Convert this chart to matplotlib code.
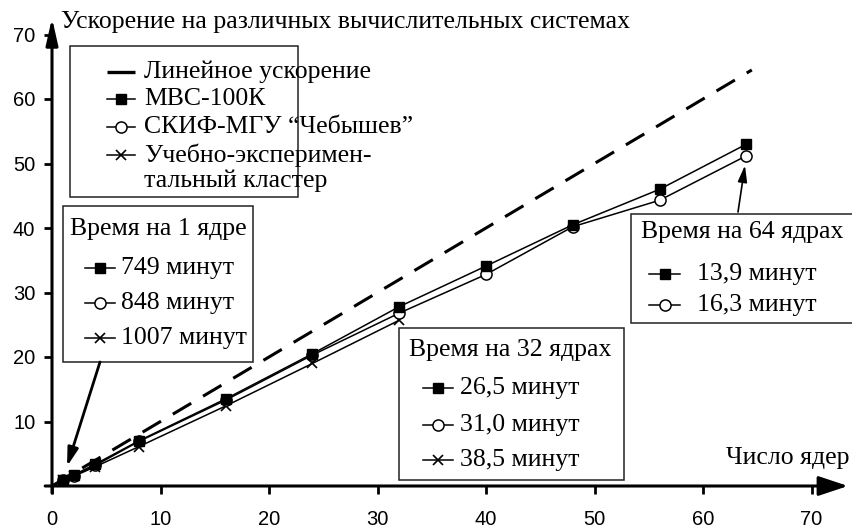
import numpy as np
import matplotlib
matplotlib.use('Agg')
import matplotlib.pyplot as plt
from matplotlib.patches import Rectangle

# --- данные ---
cores = [1, 2, 4, 8, 16, 24, 32, 40, 48, 56, 64]
mvs_speedup = [1.0, 1.7, 3.4, 7.0, 13.5, 20.5, 27.8, 34.1, 40.5, 46.0, 53.0]
skif_speedup = [1.0, 1.6, 3.2, 6.9, 13.3, 20.3, 26.8, 32.8, 40.2, 44.3, 51.2]
cluster_cores = [1, 2, 4, 8, 16, 24, 32]
cluster_speedup = [0.9, 1.5, 3.0, 6.1, 12.4, 19.0, 25.7]
linear_cores = [0, 64.5]
linear_speedup = [0, 64.5]

x_ticks = [0, 10, 20, 30, 40, 50, 60, 70]
y_ticks = [10, 20, 30, 40, 50, 60, 70]

y_title = 'Ускорение на различных вычислительных системах'
x_title = 'Число ядер'
series_labels = ['Линейное ускорение', 'МВС-100К', 'СКИФ-МГУ “Чебышев”',
                 'Учебно-эксперимен-', 'тальный кластер']
title_1 = 'Время на 1 ядре'
times_1 = ['749 минут', '848 минут', '1007 минут']
title_32 = 'Время на 32 ядрах'
times_32 = ['26,5 минут', '31,0 минут', '38,5 минут']
title_64 = 'Время на 64 ядрах'
times_64 = ['13,9 минут', '16,3 минут']

SERIF = 'Liberation Serif'
SANS = 'Liberation Sans'
FS = 18.5
W, H = 852, 529

# стили маркеров для серий
STYLES = {
    'lin': dict(marker=None, lw=2.2),
    'mvs': dict(marker='s', ms=6.5, mfc='black', mec='black', lw=1.1),
    'skif': dict(marker='o', ms=8, mfc='white', mec='black', mew=1.1, lw=1.1),
    'cl': dict(marker='x', ms=7, mec='black', mew=1.2, lw=1.1),
}

fig = plt.figure(figsize=(W / 100, H / 100), dpi=100)

# основная ось: x=0 -> 52 px, x=70 -> 811.5 px; y=0 -> 486 px, y=70 -> 34.5 px
ax = fig.add_axes([52 / W, (H - 486) / H, (811.5 - 52) / W, (486 - 34.5) / H])
ax.set_xlim(0, 70)
ax.set_ylim(0, 70)
for s in ax.spines.values():
    s.set_visible(False)
ax.patch.set_alpha(0)

ax.plot(linear_cores, linear_speedup, color='black', lw=2.2,
        dashes=(7, 4.5), zorder=2)
ax.plot(cluster_cores, cluster_speedup, color='black', zorder=3, **STYLES['cl'])
ax.plot(cores, skif_speedup, color='black', zorder=4, **STYLES['skif'])
ax.plot(cores, mvs_speedup, color='black', zorder=5, **STYLES['mvs'])

ax.set_xticks(x_ticks)
ax.set_yticks(y_ticks)
ax.set_xticklabels([str(t) for t in x_ticks], fontfamily=SANS, fontsize=14.5)
ax.set_yticklabels([str(t) for t in y_ticks], fontfamily=SANS, fontsize=14.5)
ax.tick_params(axis='x', direction='out', length=6, width=2, pad=11)
ax.tick_params(axis='y', direction='out', length=6, width=2, pad=6)

# оси со стрелками
ax.annotate('', xy=(0, 1.0365), xytext=(0, -0.0155), xycoords='axes fraction',
            arrowprops=dict(arrowstyle='-|>,head_length=1.6,head_width=0.36',
                            lw=2.2, color='black', mutation_scale=10,
                            shrinkA=0, shrinkB=0), annotation_clip=False)
ax.annotate('', xy=(1.048, 0), xytext=(-0.009, 0), xycoords='axes fraction',
            arrowprops=dict(arrowstyle='-|>,head_length=1.8,head_width=0.6',
                            lw=2.2, color='black', mutation_scale=10,
                            shrinkA=0, shrinkB=0), annotation_clip=False)

# слой для подписей и рамок в пикселях
ov = fig.add_axes([0, 0, 1, 1], zorder=10)
ov.set_xlim(0, W)
ov.set_ylim(H, 0)
ov.axis('off')

ov.text(61, 22, y_title, fontfamily=SERIF, fontsize=FS, va='center', ha='left')
ov.text(849, 458, x_title, fontfamily=SERIF, fontsize=FS, va='center', ha='right')


def handle(y, x0, x1, key):
    st = dict(STYLES[key])
    xs = [x0, (x0 + x1) / 2, x1]
    if key == 'lin':
        ov.plot([x0, x1], [y, y], color='black', lw=2.4, solid_capstyle='butt')
    else:
        ov.plot(xs, [y] * 3, color='black', markevery=[1], **st)


def box(x0, y0, x1, y1, title, title_xy, labels, keys, hx, tx, rows):
    ov.add_patch(Rectangle((x0, y0), x1 - x0, y1 - y0, facecolor='white',
                           edgecolor='#222222', lw=1.1, clip_on=False))
    if title:
        ov.text(title_xy[0], title_xy[1], title, fontfamily=SERIF,
                fontsize=FS, va='center', ha='left')
    for lab, key, y in zip(labels, keys, rows):
        if key:
            handle(y, hx[0], hx[1], key)
        ov.text(tx, y, lab, fontfamily=SERIF, fontsize=FS, va='center',
                ha='left')


# последняя строка - продолжение подписи учебного кластера (без маркера)
box(70, 46, 298, 197, None, None,
    series_labels, ['lin', 'mvs', 'skif', 'cl', None], (107, 135), 144,
    [72, 99, 127, 155, 181])
box(63, 206, 253, 362, title_1, (70, 229),
    times_1, ['mvs', 'skif', 'cl'], (85, 115), 121, [268, 303, 338])
box(399, 328, 624, 480, title_32, (409, 350),
    times_32, ['mvs', 'skif', 'cl'], (423, 453), 460, [388, 425, 460])
box(631, 214, 880, 323, title_64, (641, 232),
    times_64, ['mvs', 'skif'], (649, 680), 697, [274, 305])

# стрелки-указатели
ov.annotate('', xy=(cores[0], mvs_speedup[0]), xycoords=ax.transData,
            xytext=(100, 362), textcoords='data',
            arrowprops=dict(arrowstyle='-|>,head_length=1.1,head_width=0.32',
                            lw=2.0, color='black', mutation_scale=10,
                            shrinkA=0, shrinkB=10))
ov.annotate('', xy=(cores[-1], skif_speedup[-1]), xycoords=ax.transData,
            xytext=(738, 212), textcoords='data',
            arrowprops=dict(arrowstyle='-|>,head_length=1.0,head_width=0.28',
                            lw=1.2, color='black', mutation_scale=10,
                            shrinkA=0, shrinkB=7))

fig.savefig('out.png', dpi=100)
